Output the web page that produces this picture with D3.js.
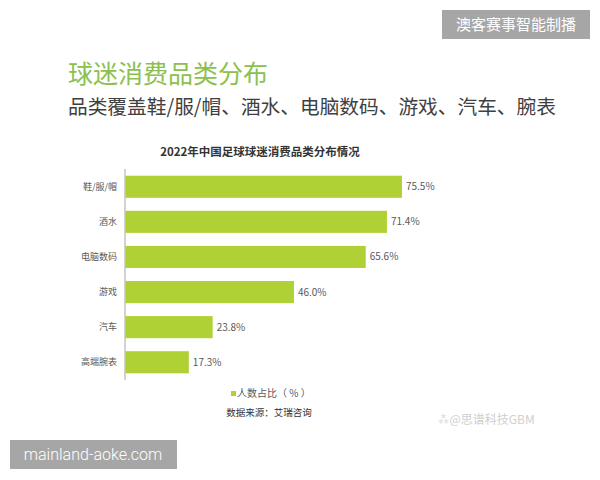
<!DOCTYPE html>
<html>
<head>
<meta charset="utf-8">
<script src="https://cdn.jsdelivr.net/npm/d3@7"></script>
<style>
  html, body { margin: 0; padding: 0; background: #fff; }
  svg { display: block; font-family: "Noto Sans CJK SC", "Noto Sans", sans-serif; }
</style>
</head>
<body>
<div id="grafica"></div>
<script>
// datos de la gráfica
var categorias = ["鞋/服/帽", "酒水", "电脑数码", "游戏", "汽车", "高端腕表"];
var valores = [75.5, 71.4, 65.6, 46.0, 23.8, 17.3];
var etiquetas = ["75.5%", "71.4%", "65.6%", "46.0%", "23.8%", "17.3%"];

var width = 600, height = 480;

var svg = d3.select("#grafica")
  .append("svg")
  .attr("width", width)
  .attr("height", height);

// marcas de agua
svg.append("rect")
  .attr("x", 442).attr("y", 10)
  .attr("width", 148).attr("height", 29)
  .style("fill", "#a6a6a6");
svg.append("text")
  .attr("x", 516).attr("y", 30)
  .attr("text-anchor", "middle")
  .style("font-size", "15px")
  .style("fill", "#fff")
  .text("澳客赛事智能制播");

svg.append("rect")
  .attr("x", 10).attr("y", 440)
  .attr("width", 167).attr("height", 29)
  .style("fill", "#a6a6a6");
svg.append("text")
  .attr("x", 93).attr("y", 460)
  .attr("text-anchor", "middle")
  .style("font-family", "Roboto, 'Noto Sans', sans-serif")
  .style("font-size", "16px")
  .style("font-weight", "300")
  .style("fill", "#fff")
  .text("mainland-aoke.com");

// títulos
svg.append("text")
  .attr("x", 68).attr("y", 83)
  .style("font-size", "25px")
  .style("fill", "#8cc04e")
  .text("球迷消费品类分布");

svg.append("text")
  .attr("x", 68).attr("y", 114)
  .style("font-size", "19.7px")
  .style("fill", "#404040")
  .text("品类覆盖鞋/服/帽、酒水、电脑数码、游戏、汽车、腕表");

svg.append("text")
  .attr("x", 260).attr("y", 156)
  .attr("text-anchor", "middle")
  .style("font-size", "11.5px")
  .style("font-weight", "bold")
  .style("fill", "#333")
  .text("2022年中国足球球迷消费品类分布情况");

// escalas
var x = d3.scaleLinear()
  .domain([0, 100])
  .range([125.5, 491.7]);

var y = d3.scaleBand()
  .domain(categorias)
  .range([169.2, 379.8])
  .paddingInner(0.37)
  .paddingOuter(0.185);

// barras
svg.append("g")
  .selectAll("rect")
  .data(valores)
  .enter()
  .append("rect")
  .attr("x", x(0))
  .attr("y", function (d, i) { return y(categorias[i]); })
  .attr("width", function (d) { return x(d) - x(0); })
  .attr("height", y.bandwidth())
  .style("fill", "#b0d136");

// eje vertical
svg.append("line")
  .attr("x1", 125).attr("x2", 125)
  .attr("y1", 169).attr("y2", 380)
  .style("stroke", "#a6a6a6")
  .style("stroke-width", 1);

// etiquetas de categorías
svg.append("g")
  .selectAll("text")
  .data(categorias)
  .enter()
  .append("text")
  .attr("x", 117)
  .attr("y", function (d) { return y(d) + y.bandwidth() / 2; })
  .attr("dy", "0.35em")
  .attr("text-anchor", "end")
  .style("font-size", "9px")
  .style("fill", "#595959")
  .text(function (d) { return d; });

// etiquetas de valores
svg.append("g")
  .selectAll("text")
  .data(valores)
  .enter()
  .append("text")
  .attr("x", function (d) { return x(d) + 4; })
  .attr("y", function (d, i) { return y(categorias[i]) + y.bandwidth() / 2; })
  .attr("dy", "0.35em")
  .style("font-size", "10px")
  .style("fill", "#595959")
  .text(function (d, i) { return etiquetas[i]; });

// leyenda
svg.append("rect")
  .attr("x", 231).attr("y", 391)
  .attr("width", 5).attr("height", 5)
  .style("fill", "#b0d136");
svg.append("text")
  .attr("x", 237).attr("y", 393.5)
  .attr("dy", "0.35em")
  .style("font-size", "10px")
  .style("fill", "#595959")
  .text("人数占比（ % ）");

// fuente
svg.append("text")
  .attr("x", 269).attr("y", 413)
  .attr("dy", "0.35em")
  .attr("text-anchor", "middle")
  .style("font-size", "9.5px")
  .style("fill", "#333")
  .text("数据来源：艾瑞咨询");

svg.append("text")
  .attr("x", 486).attr("y", 420)
  .attr("dy", "0.35em")
  .attr("text-anchor", "middle")
  .style("font-size", "12px")
  .style("fill", "#d0d0d0")
  .text("⁂@思谱科技GBM");
</script>
</body>
</html>
